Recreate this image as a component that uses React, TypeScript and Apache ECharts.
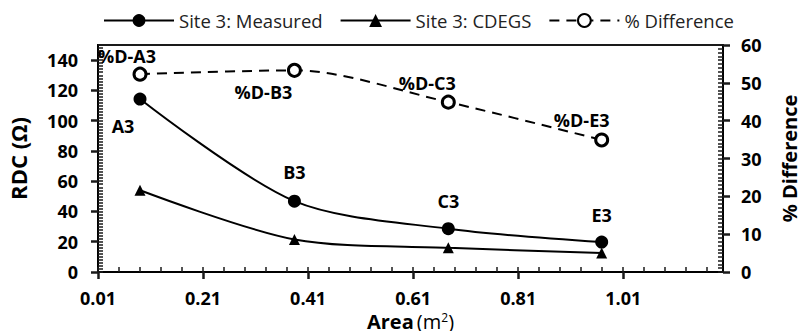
import React, { useEffect, useRef } from "react";
import * as echarts from "echarts";

const pointNames = ["A3", "B3", "C3", "E3"];
const pctNames = ["%D-A3", "%D-B3", "%D-C3", "%D-E3"];
const area = [0.09, 0.384, 0.677, 0.969];
const measured = [114.3, 46.8, 28.6, 19.8];
const cdegs = [54, 21.5, 16.0, 12.5];
const pctDiff = [52.3, 53.3, 44.9, 34.9];
const xTickLabels = [0.01, 0.21, 0.41, 0.61, 0.81, 1.01];

const FONT = "Open Sans";
const INK = "#000";
const TICK = "#1a1a1a";

export default function App() {
  const ref = useRef<HTMLDivElement>(null);

  useEffect(() => {
    if (!ref.current) return;
    const chart = echarts.init(ref.current, undefined, { renderer: "svg" });

    const xMinor: number[] = [];
    for (let i = 0; i <= 29; i++) xMinor.push(+(0.01 + i * 0.04).toFixed(2));

    const nameLabelOffsets: [number, number][] = [[-17, 27], [0, -29], [0, -28], [0, -27]];
    const pctLabelOffsets: [number, number][] = [[-13, -18], [-31, 22], [-21, -19], [-20, -20]];

    const labelStyle = {
      show: true,
      position: "inside" as const,
      fontFamily: FONT,
      fontWeight: "bold" as const,
      fontSize: 18,
      color: INK,
    };

    const tickLabel = { fontFamily: FONT, fontWeight: "bold", fontSize: 18, color: INK };

    const option: any = {
      animation: false,
      backgroundColor: "#fff",
      textStyle: { fontFamily: FONT },
      grid: {
        left: 98,
        right: 80,
        top: 45,
        bottom: 59,
        outerBoundsMode: "none",
        containLabel: false,
        show: true,
        borderColor: TICK,
        borderWidth: 2,
        backgroundColor: "transparent",
      },
      legend: {
        top: 11,
        left: 103,
        padding: 0,
        itemWidth: 70,
        itemHeight: 16,
        itemGap: 17,
        textStyle: { fontFamily: FONT, fontSize: 18.5, color: "#222" },
        data: ["Site 3: Measured", "Site 3: CDEGS", "% Difference"],
      },
      xAxis: [
        {
          type: "value",
          min: 0.01,
          max: 1.2,
          name: "{b|Area} {n|(m}{s|2}{n|)}",
          nameLocation: "middle",
          nameGap: 28,
          nameTextStyle: {
            rich: {
              b: { fontFamily: FONT, fontWeight: "bold", fontSize: 20, color: INK },
              n: { fontFamily: FONT, fontSize: 20, color: INK },
              s: { fontFamily: FONT, fontSize: 12, color: INK, verticalAlign: "top", padding: [0, 0, 8, 0] },
            },
          },
          axisLine: { show: true, onZero: false, lineStyle: { color: INK, width: 2 } },
          axisTick: { show: true, length: 7, lineStyle: { color: TICK, width: 2.5 }, customValues: xTickLabels },
          axisLabel: {
            ...tickLabel,
            customValues: xTickLabels,
            formatter: (v: number) => v.toFixed(2),
            margin: 17,
          },
          splitLine: { show: false },
        },
        {
          type: "value",
          min: 0.01,
          max: 1.2,
          position: "bottom",
          axisLine: { show: false },
          axisTick: { show: true, inside: true, length: 5, lineStyle: { color: TICK, width: 1.5 }, customValues: xMinor },
          axisLabel: { show: false },
          splitLine: { show: false },
        },
      ],
      yAxis: [
        {
          type: "value",
          min: 0,
          max: 150,
          interval: 20,
          name: "RDC (Ω)",
          nameLocation: "middle",
          nameRotate: 90,
          nameGap: 69,
          nameTextStyle: { fontFamily: FONT, fontWeight: "bold", fontSize: 22, color: INK },
          axisLine: { show: true, onZero: false, lineStyle: { color: INK, width: 2 } },
          axisTick: { show: true, length: 7, lineStyle: { color: TICK, width: 2.5 } },
          axisLabel: {
            ...tickLabel,
            margin: 20,
            showMaxLabel: false,
            formatter: (v: number) => (v > 140 ? "" : String(v)),
          },
          splitLine: { show: false },
        },
        {
          type: "value",
          min: 0,
          max: 60,
          interval: 10,
          position: "right",
          name: "% Difference",
          nameLocation: "middle",
          nameRotate: 90,
          nameGap: 56,
          nameTextStyle: { fontFamily: FONT, fontWeight: "bold", fontSize: 20, color: INK },
          axisLine: { show: true, onZero: false, lineStyle: { color: INK, width: 2 } },
          axisTick: { show: true, length: 7, lineStyle: { color: TICK, width: 2.5 } },
          axisLabel: { ...tickLabel, margin: 18 },
          splitLine: { show: false },
        },
        {
          type: "value",
          min: 0,
          max: 150,
          interval: 2,
          position: "left",
          axisLine: { show: false },
          axisTick: { show: true, inside: true, length: 5, lineStyle: { color: TICK, width: 1.5 } },
          axisLabel: { show: false },
          splitLine: { show: false },
        },
        {
          type: "value",
          min: 0,
          max: 60,
          interval: 1,
          position: "right",
          axisLine: { show: false },
          axisTick: { show: true, inside: true, length: 5, lineStyle: { color: TICK, width: 1.5 } },
          axisLabel: { show: false },
          splitLine: { show: false },
        },
      ],
      series: [
        {
          name: "Site 3: Measured",
          type: "line",
          xAxisIndex: 0,
          yAxisIndex: 0,
          smooth: 0.3,
          symbol: "circle",
          symbolSize: 13,
          z: 3,
          itemStyle: { color: INK },
          lineStyle: { color: INK, width: 2 },
          data: area.map((x, i) => ({
            value: [x, measured[i]],
            label: { ...labelStyle, formatter: pointNames[i], offset: nameLabelOffsets[i] },
          })),
        },
        {
          name: "Site 3: CDEGS",
          type: "line",
          xAxisIndex: 0,
          yAxisIndex: 0,
          smooth: 0.3,
          symbol: "triangle",
          symbolSize: 11,
          z: 3,
          itemStyle: { color: INK },
          lineStyle: { color: INK, width: 2 },
          data: area.map((x, i) => [x, cdegs[i]]),
        },
        {
          name: "% Difference",
          type: "line",
          xAxisIndex: 0,
          yAxisIndex: 1,
          smooth: 0.3,
          symbol: "circle",
          symbolSize: 12,
          z: 3,
          itemStyle: { color: "#fff", borderColor: INK, borderWidth: 3 },
          lineStyle: { color: INK, width: 2, type: [10, 7] },
          data: area.map((x, i) => ({
            value: [x, pctDiff[i]],
            label: { ...labelStyle, formatter: pctNames[i], offset: pctLabelOffsets[i] },
          })),
        },
      ],
    };

    chart.setOption(option);
    return () => chart.dispose();
  }, []);

  return (
    <div
      ref={ref}
      style={{ position: "fixed", left: 0, top: 0, width: 803, height: 331, background: "#fff" }}
    />
  );
}
